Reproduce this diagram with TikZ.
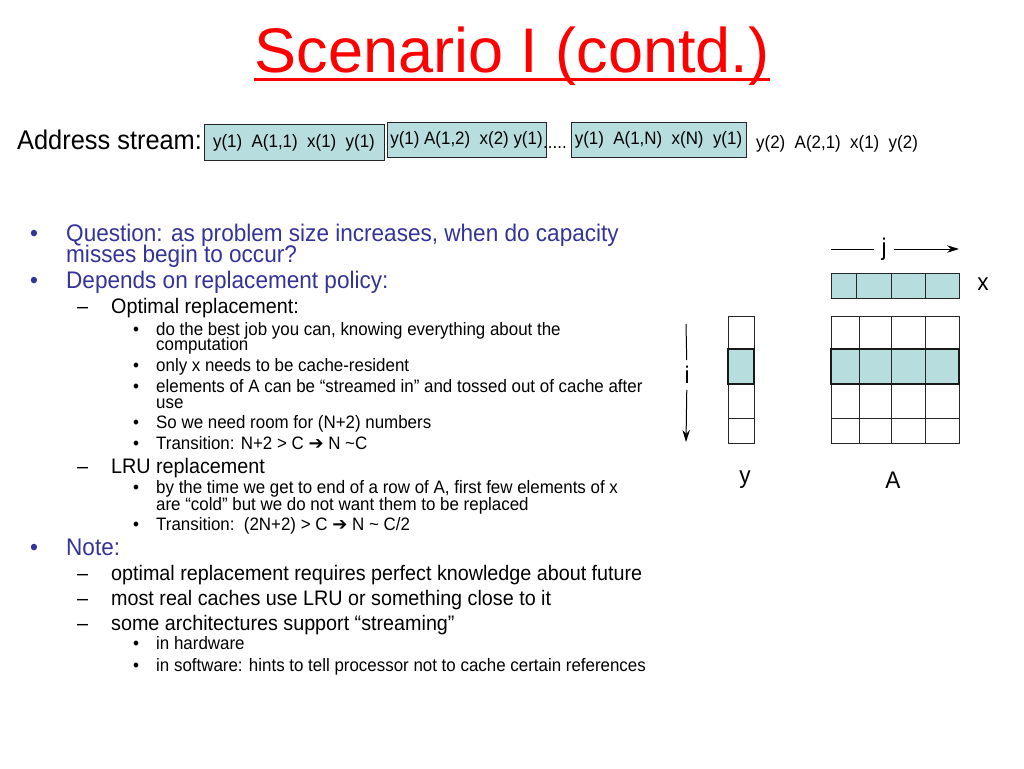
\documentclass[tikz,border=0pt]{standalone}
\usepackage{fontspec}
\setmainfont[FakeStretch=0.94]{Liberation Sans}
\newfontfamily\titlefont{Liberation Sans}
\newfontfamily\symfont{DejaVu Sans}
\usetikzlibrary{arrows.meta}

\definecolor{cellfill}{RGB}{183,221,222}
\definecolor{bulletblue}{RGB}{51,51,153}
\definecolor{titlered}{RGB}{255,0,0}

\def\fsTitle{\titlefont\fontsize{63}{70}\selectfont}
\def\fsAddr{\fontsize{27}{32}\selectfont}
\def\fsStream{\fontsize{18}{21}\selectfont}
\def\fsOne{\fontsize{24}{28}\selectfont}
\def\fsTwo{\fontsize{21}{25}\selectfont}
\def\fsThree{\fontsize{18}{21}\selectfont}
\def\arr{{\symfont ➔}}

\begin{document}
\begin{tikzpicture}[x=1pt,y=-1pt,>={Stealth[length=12pt,width=7.5pt]},
  txt/.style={anchor=base west,inner sep=0pt},
  lvlone/.style={txt,text=bulletblue,font=\fsOne},
  lvltwo/.style={txt,font=\fsTwo},
  lvlthree/.style={txt,font=\fsThree},
  streambox/.style={draw=black!85,fill=cellfill,line width=1pt,inner sep=0pt,font=\fsStream},
  cell/.style={draw=black!85,line width=1pt},
  rowcell/.style={draw=black!90,line width=1.8pt}]

  \useasboundingbox (0,0) rectangle (1024,768);

  % nadpis
  \node[anchor=base,inner sep=0pt,text=titlered,font=\fsTitle] (title) at (512,72)
       {Scenario I (contd.)};
  \draw[titlered,line width=3pt] ([yshift=-7pt]title.base west)--([yshift=-7pt]title.base east);

  % address stream
  \node[txt,font=\fsAddr] (addr) at (17,149) {Address stream:};
  \node[streambox,minimum width=180pt,minimum height=36pt] (sA) at (294,142.5)
       {y(1)\ \ A(1,1)\ \ x(1)\ \ y(1)};
  \node[streambox,minimum width=159pt,minimum height=35pt] (sB) at (466.5,140)
       {y(1) A(1,2)\ \ x(2) y(1)};
  \node[txt,font=\fsStream] (dots) at (543,148) {.....};
  \node[streambox,minimum width=175pt,minimum height=35pt] (sC) at (658.5,140)
       {y(1)\ \ A(1,N)\ \ x(N)\ \ y(1)};
  \node[txt,font=\fsStream] (sD) at (756,148) {y(2)\ \ A(2,1)\ \ x(1)\ \ y(2)};

  % odrazky
  \node[lvlone] (qb) at (30,241) {•};
  \node[lvlone] (q1) at (66,241) {Question: as problem size increases, when do capacity};
  \node[lvlone] (q2) at (66,262) {misses begin to occur?};
  \node[lvlone] (db) at (30,288) {•};
  \node[lvlone] (d1) at (66,288) {Depends on replacement policy:};

  \node[lvltwo] (ob) at (77,313) {–};
  \node[lvltwo] (o1) at (111,313) {Optimal replacement:};
  \node[lvlthree] (o1b) at (133,335) {•};
  \node[lvlthree] (o11) at (156,335) {do the best job you can, knowing everything about the};
  \node[lvlthree] (o12) at (156,350) {computation};
  \node[lvlthree] (o2b) at (133,371) {•};
  \node[lvlthree] (o2) at (156,371) {only x needs to be cache-resident};
  \node[lvlthree] (o3b) at (133,392) {•};
  \node[lvlthree] (o31) at (156,392) {elements of A can be “streamed in” and tossed out of cache after};
  \node[lvlthree] (o32) at (156,408) {use};
  \node[lvlthree] (o4b) at (133,428) {•};
  \node[lvlthree] (o4) at (156,428) {So we need room for (N+2) numbers};
  \node[lvlthree] (o5b) at (133,449) {•};
  \node[lvlthree] (o5) at (156,449) {Transition: N+2 > C \arr\ N \textasciitilde C};

  \node[lvltwo] (lb) at (77,473) {–};
  \node[lvltwo] (l1) at (111,473) {LRU replacement};
  \node[lvlthree] (l1b) at (133,493) {•};
  \node[lvlthree] (l11) at (156,493) {by the time we get to end of a row of A, first few elements of x};
  \node[lvlthree] (l12) at (156,510) {are “cold” but we do not want them to be replaced};
  \node[lvlthree] (l2b) at (133,530) {•};
  \node[lvlthree] (l2) at (156,530) {Transition:\ \ (2N+2) > C \arr\ N \textasciitilde\ C/2};

  \node[lvlone] (nb) at (30,555) {•};
  \node[lvlone] (n1) at (66,555) {Note:};
  \node[lvltwo] (n1b) at (77,580) {–};
  \node[lvltwo] (n11) at (111,580) {optimal replacement requires perfect knowledge about future};
  \node[lvltwo] (n2b) at (77,605) {–};
  \node[lvltwo] (n2) at (111,605) {most real caches use LRU or something close to it};
  \node[lvltwo] (n3b) at (77,630) {–};
  \node[lvltwo] (n3) at (111,630) {some architectures support “streaming”};
  \node[lvlthree] (h1b) at (133,649) {•};
  \node[lvlthree] (h1) at (156,649) {in hardware};
  \node[lvlthree] (h2b) at (133,671) {•};
  \node[lvlthree] (h2) at (156,671) {in software: hints to tell processor not to cache certain references};

  % vektor x
  \foreach \xa/\xb in {831/856,856/891,891/925,925/959}
     \draw[cell,fill=cellfill] (\xa,273) rectangle (\xb,298);

  % matice A
  \fill[cellfill] (831,349) rectangle (959,384);
  \foreach \xa/\xb in {831/859,859/891,891/925,925/959}
    \foreach \ya/\yb in {316/349,349/384,384/418,418/443}
       \draw[cell] (\xa,\ya) rectangle (\xb,\yb);
  \draw[rowcell] (831,349) rectangle (959,384);

  % vektor y
  \fill[cellfill] (728,349) rectangle (754,384);
  \foreach \ya/\yb in {316/349,349/384,384/418,418/443}
     \draw[cell] (728,\ya) rectangle (754,\yb);
  \draw[rowcell] (728,349) rectangle (754,384);

  % indexy i, j
  \coordinate (itop) at (686,324);
  \coordinate (ibot) at (686,442);
  \node[font=\fsOne,inner xsep=0pt,inner ysep=6pt] (ilab) at (687,375) {i};
  \draw[line width=1pt] (itop)--(ilab);
  \draw[line width=1pt,->] (ilab)--(ibot);

  \coordinate (jleft) at (831,249);
  \coordinate (jright) at (959,249);
  \node[font=\fsOne,inner xsep=7pt,inner ysep=0pt] (jlab) at (884,249) {j};
  \draw[line width=1pt] (jleft)--(jlab);
  \draw[line width=1pt,->] (jlab)--(jright);

  \node[font=\fsOne] (xlab) at (983,284) {x};
  \node[font=\fsOne] (ylab) at (745,480) {y};
  \node[font=\fsOne] (Alab) at (893,480) {A};

\end{tikzpicture}
\end{document}
